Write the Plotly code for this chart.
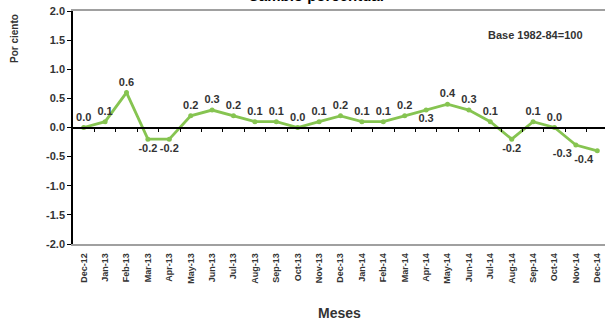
import plotly.graph_objects as go

# Monthly CPI percent change, Dec-12 through Dec-14
months = ["Dec-12", "Jan-13", "Feb-13", "Mar-13", "Apr-13", "May-13", "Jun-13",
          "Jul-13", "Aug-13", "Sep-13", "Oct-13", "Nov-13", "Dec-13", "Jan-14",
          "Feb-14", "Mar-14", "Apr-14", "May-14", "Jun-14", "Jul-14", "Aug-14",
          "Sep-14", "Oct-14", "Nov-14", "Dec-14"]
change = [0.0, 0.1, 0.6, -0.2, -0.2, 0.2, 0.3, 0.2, 0.1, 0.1, 0.0, 0.1, 0.2, 0.1,
          0.1, 0.2, 0.3, 0.4, 0.3, 0.1, -0.2, 0.1, 0.0, -0.3, -0.4]
y_ticks = [2.0, 1.5, 1.0, 0.5, 0.0, -0.5, -1.0, -1.5, -2.0]

# Where each value label sits relative to its point
label_pos = ["top center"] * len(change)
for i, v in enumerate(change):
    if v < 0:
        label_pos[i] = "bottom center"
label_pos[months.index("Apr-14")] = "bottom center"
label_pos[months.index("Nov-14")] = "bottom left"
label_pos[months.index("Dec-14")] = "bottom left"

FONT = "Arial, Liberation Sans, sans-serif"
TXT = "#333333"
GREEN = "#86C451"

x_idx = list(range(len(months)))

fig = go.Figure()
fig.add_trace(go.Scatter(
    x=x_idx, y=change,
    mode="lines+markers+text",
    line=dict(color=GREEN, width=2.8),
    marker=dict(color=GREEN, size=5),
    text=[f"{v:.1f}" for v in change],
    textposition=label_pos,
    textfont=dict(family=FONT, size=11, color=TXT, weight="bold"),
    cliponaxis=False,
    showlegend=False,
    hoverinfo="skip",
))

fig.update_layout(
    width=605, height=320,
    margin=dict(l=73, r=0, t=11, b=76),
    paper_bgcolor="white", plot_bgcolor="white",
    font=dict(family=FONT, color=TXT),
    xaxis=dict(
        range=[-0.5, 24.36],
        tickvals=x_idx, ticktext=months, tickangle=-90,
        tickfont=dict(family=FONT, size=9, color=TXT, weight="bold"),
        showgrid=False, zeroline=False,
        showline=True, linecolor="#A0A0A0", linewidth=1.5, mirror=True,
        ticks="", ticklabelstandoff=4,
    ),
    # zero reference axis with tick marks between months
    xaxis2=dict(
        overlaying="x", matches="x", anchor="free", position=0.5, side="bottom",
        showline=True, linecolor="black", linewidth=1.5,
        tickvals=[i + 0.5 for i in x_idx[:-1]], ticktext=[""] * (len(months) - 1),
        ticks="outside", ticklen=4, tickcolor="black", tickwidth=1,
        showgrid=False, zeroline=False,
    ),
    yaxis=dict(
        range=[-2.0, 2.0],
        tickvals=y_ticks, ticktext=[f"{v:.1f}" for v in y_ticks],
        tickfont=dict(family=FONT, size=11, color=TXT, weight="bold"),
        showgrid=False, zeroline=False,
        showline=True, linecolor="black", linewidth=1.5,
        ticks="outside", ticklen=4, tickcolor="black",
    ),
)

# invisible trace so the zero axis is drawn
fig.add_trace(go.Scatter(x=[0], y=[0], xaxis="x2", mode="markers",
                         marker=dict(opacity=0), showlegend=False, hoverinfo="skip"))

fig.add_annotation(text="Cambio porcentual", xref="paper", yref="paper",
                   x=0.457, y=1.065, showarrow=False,
                   xanchor="center", yanchor="middle",
                   font=dict(family=FONT, size=15, color="black", weight="bold"))
fig.add_annotation(text="Base 1982-84=100", xref="paper", yref="paper",
                   x=0.87, y=0.897, showarrow=False,
                   xanchor="center", yanchor="middle",
                   font=dict(family=FONT, size=11, color=TXT, weight="bold"))
fig.add_annotation(text="Por ciento", xref="paper", yref="paper",
                   x=-0.111, y=0.884, showarrow=False, textangle=-90,
                   xanchor="center", yanchor="middle",
                   font=dict(family=FONT, size=10, color=TXT, weight="bold"))
fig.add_annotation(text="Meses", xref="paper", yref="paper",
                   x=0.5, y=-0.296, showarrow=False,
                   xanchor="center", yanchor="middle",
                   font=dict(family=FONT, size=14, color=TXT, weight="bold"))

fig.write_html("out.html")
